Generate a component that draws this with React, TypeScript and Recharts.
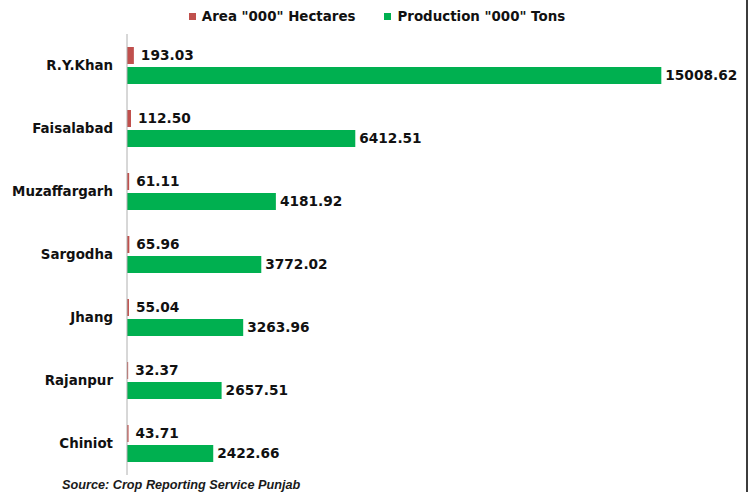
import React from "react";
import { BarChart, Bar, XAxis, YAxis, LabelList } from "recharts";

const districts = ["R.Y.Khan", "Faisalabad", "Muzaffargarh", "Sargodha", "Jhang", "Rajanpur", "Chiniot"];
const areaValues = [193.03, 112.5, 61.11, 65.96, 55.04, 32.37, 43.71];
const productionValues = [15008.62, 6412.51, 4181.92, 3772.02, 3263.96, 2657.51, 2422.66];
const seriesNames = ['Area "000" Hectares', 'Production "000" Tons'];
const seriesColors = ["#C0504D", "#00B050"];
const sourceText = "Source: Crop Reporting Service Punjab";

const data = districts.map((d, i) => ({
  district: d,
  area: areaValues[i],
  production: productionValues[i],
}));

const valueFont = { fontFamily: "'DejaVu Sans', sans-serif", fontWeight: 700, fontSize: 13.7, fill: "#111" };

const LegendContent = () => (
  <div
    style={{
      display: "flex",
      justifyContent: "center",
      gap: 29,
      fontFamily: "'DejaVu Sans', sans-serif",
      fontWeight: 700,
      fontSize: 13.4,
      color: "#111",
    }}
  >
    {seriesNames.map((n, i) => (
      <div key={n} style={{ display: "flex", alignItems: "center" }}>
        <span style={{ width: 7, height: 7, background: seriesColors[i], display: "inline-block", marginRight: 6 }} />
        <span>{n}</span>
      </div>
    ))}
  </div>
);

export default function App() {
  return (
    <div style={{ position: "fixed", left: 0, top: 0, width: 754, height: 492, background: "#fff", overflow: "hidden" }}>
      <div style={{ position: "absolute", left: 0, top: 9, width: 754 }}>
        <LegendContent />
      </div>
      <BarChart
        width={754}
        height={492}
        data={data}
        layout="vertical"
        margin={{ top: 34, right: 20, bottom: 17, left: 0 }}
        barSize={17}
        barGap={3}
      >
        <XAxis type="number" domain={[0, 17050]} hide />
        <YAxis
          type="category"
          dataKey="district"
          width={127}
          axisLine={{ stroke: "#b0b0b0", strokeWidth: 1 }}
          tickLine={false}
          tickSize={0}
          tickMargin={14}
          tick={{ fontFamily: "'DejaVu Sans', sans-serif", fontWeight: 700, fontSize: 13.4, fill: "#111" }}
        />
        <Bar dataKey="area" fill={seriesColors[0]} isAnimationActive={false}>
          <LabelList dataKey="area" position="right" offset={7} formatter={(v: number) => v.toFixed(2)} style={valueFont} />
        </Bar>
        <Bar dataKey="production" fill={seriesColors[1]} isAnimationActive={false}>
          <LabelList dataKey="production" position="right" offset={4} formatter={(v: number) => v.toFixed(2)} style={valueFont} />
        </Bar>
      </BarChart>
      <div
        style={{
          position: "absolute",
          left: 62,
          top: 478,
          fontFamily: "'Liberation Sans', Arial, sans-serif",
          fontWeight: 700,
          fontStyle: "italic",
          fontSize: 12.7,
          color: "#1a1a1a",
          whiteSpace: "nowrap",
        }}
      >
        {sourceText}
      </div>
      <div style={{ position: "absolute", left: 746, top: 0, width: 2, height: 492, background: "#3c3c3c" }} />
    </div>
  );
}
